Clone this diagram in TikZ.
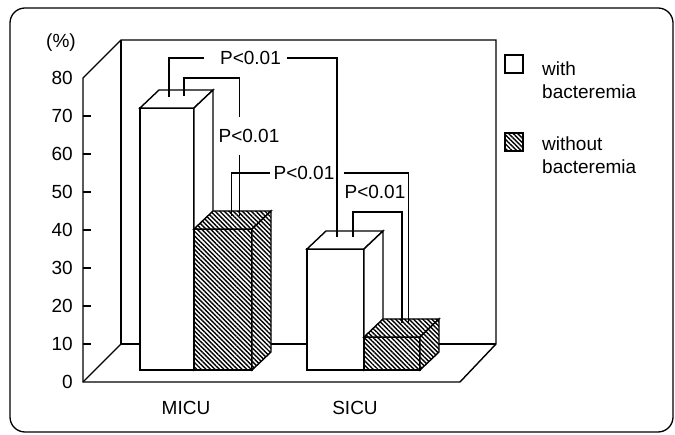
\documentclass[tikz,border=0pt]{standalone}
\usepackage{fontspec}
\setmainfont{Liberation Sans}
\usetikzlibrary{positioning,patterns.meta}

% one 3-d column: style, left x, right x, top y, bottom y
\newcommand{\barbox}[5]{%
  \draw[#1] (#2,#4) rectangle (#3,#5);
  \draw[#1] (#2,#4) -- ++(19,-18) -- ++(#3-#2,0) -- (#3,#4) -- cycle;
  \draw[#1] (#3,#4) -- ++(19,-18) -- ++(0,#5-#4) -- (#3,#5) -- cycle;
}

\begin{document}
\begin{tikzpicture}[x=1pt, y=-1pt,
    wall/.style={line width=1.4pt},
    whitebar/.style={draw, line width=1.4pt, fill=white},
    darkbar/.style={draw, line width=1.4pt, preaction={fill=white},
        pattern={Lines[angle=-45, distance=3.2pt, line width=1.4pt]}},
    link/.style={line width=1.1pt},
    lbl/.style={inner sep=0pt, font=\fontsize{19}{23}\selectfont}
]
\useasboundingbox (0,0) rectangle (675,435);

% Frame
\draw[line width=1.3pt, rounded corners=15pt] (10,8) rectangle (673,432);

% Walls and floor
\draw[wall] (83,78) -- (83,382) -- (460,382) -- (496,344) -- (496,40) -- (121,40) -- cycle;
\draw[wall] (121,40) -- (121,344) -- (496,344);
\draw[wall] (83,382) -- (121,344);

% Y axis
\node[lbl] (unit) at (61,43) {(\%)};
\foreach \v in {0,10,...,80}
  \node[lbl, anchor=east] (tick\v) at (73,{382-3.8*\v}) {\v};
\foreach \v in {10,20,...,70}
  \draw[wall] (83,{382-3.8*\v}) -- ++(8,0);

% Columns
\barbox{whitebar}{140}{194}{108}{370}
\barbox{darkbar}{194}{252}{229}{370}
\barbox{whitebar}{307}{364}{249}{370}
\barbox{darkbar}{364}{420}{337}{370}

% Categories
\node[lbl] (micu) at (186,408) {MICU};
\node[lbl] (sicu) at (355,408) {SICU};

% Bracket ends on the column tops
\coordinate (m1) at (169,97);
\coordinate (m2) at (184,96);
\coordinate (k2) at (239.5,78);
\coordinate (d2) at (239.5,216);
\coordinate (d3) at (231.5,216);
\coordinate (s1) at (337,237);
\coordinate (s4) at (353,237);
\coordinate (k4) at (402,212);
\coordinate (e4) at (402,323);
\coordinate (e3) at (408.5,323);

% P values
\node[lbl] (p1) at (250.5,58) {P<0.01};
\node[lbl, inner ysep=12pt] (p2) at (249,136) {P<0.01};
\node[lbl] (p3) at (304,173) {P<0.01};
\node[lbl] (p4) at (375,192) {P<0.01};

% Brackets
\draw[link] (m1) |- ([xshift=-16pt]p1.west);
\draw[link] ([xshift=6pt]p1.east) -| (s1);
\draw[link] (m2) |- (k2) -- (p2.north -| k2);
\draw[link] (p2.south -| k2) -- (d2);
\draw[link] (d3) |- ([xshift=-3pt]p3.west);
\draw[link] ([xshift=9pt]p3.east) -| (e3);
\draw[link] (s4) |- (k4) -- (e4);

% Legend
\draw[whitebar, line width=1.1pt] (505,55) rectangle (523,73);
\node[lbl, anchor=west, align=left] (with) at (542,80) {with\\bacteremia};
\draw[darkbar, line width=1.1pt] (505,133) rectangle (523,151);
\node[lbl, anchor=west, align=left] (without) at (542,155) {without\\bacteremia};
\end{tikzpicture}
\end{document}
